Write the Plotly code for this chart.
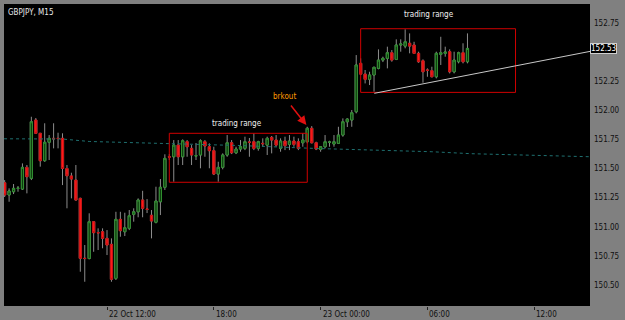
import pandas as pd
import plotly.graph_objects as go

# ---------------- data (GBPJPY, M15) ----------------
bar_times = pd.date_range("2015-10-22 06:15", periods=105, freq="15min")

opens = [151.378, 151.273, 151.301, 151.330, 151.324, 151.510, 151.416, 151.916, 151.802, 151.567,
         151.725, 151.759, 151.759, 151.759, 151.500, 151.436, 151.401, 151.244, 150.730, 150.728,
         151.044, 150.950, 150.958, 150.901, 150.850, 150.558, 151.064, 150.958, 150.987, 151.107,
         151.129, 151.230, 151.153, 151.099, 151.039, 151.215, 151.339, 151.601, 151.601, 151.701,
         151.601, 151.730, 151.673, 151.607, 151.616, 151.730, 151.687, 151.653, 151.453, 151.510,
         151.616, 151.721, 151.635, 151.667, 151.673, 151.727, 151.730, 151.673, 151.716, 151.701,
         151.767, 151.744, 151.673, 151.736, 151.707, 151.736, 151.730, 151.721, 151.730, 151.845,
         151.721, 151.664, 151.687, 151.725, 151.710, 151.716, 151.787, 151.901, 151.916, 151.987,
         152.402, 152.310, 152.265, 152.302, 152.359, 152.430, 152.445, 152.493, 152.436, 152.559,
         152.550, 152.574, 152.559, 152.488, 152.424, 152.345, 152.339, 152.287, 152.479, 152.488,
         152.502, 152.330, 152.416, 152.493, 152.416]
highs = [151.401, 151.330, 151.367, 151.350, 151.544, 151.530, 151.944, 151.933, 151.805, 151.888,
         151.787, 151.888, 151.807, 151.802, 151.530, 151.464, 151.530, 151.250, 150.844, 151.116,
         151.050, 150.987, 150.987, 150.972, 150.901, 151.129, 151.129, 151.121, 151.144, 151.159,
         151.244, 151.309, 151.238, 151.144, 151.344, 151.410, 151.622, 151.624, 151.744, 151.744,
         151.750, 151.744, 151.701, 151.719, 151.750, 151.744, 151.716, 151.687, 151.558, 151.630,
         151.787, 151.744, 151.687, 151.744, 151.773, 151.762, 151.802, 151.738, 151.759, 151.773,
         151.779, 151.787, 151.759, 151.773, 151.787, 151.773, 151.759, 151.802, 151.858, 151.864,
         151.730, 151.693, 151.787, 151.738, 151.787, 151.858, 151.930, 151.930, 152.002, 152.473,
         152.445, 152.345, 152.330, 152.373, 152.522, 152.459, 152.545, 152.516, 152.608, 152.608,
         152.694, 152.659, 152.587, 152.502, 152.436, 152.359, 152.373, 152.502, 152.630, 152.545,
         152.522, 152.502, 152.502, 152.574, 152.659]
lows = [151.256, 151.215, 151.281, 151.301, 151.316, 151.287, 151.401, 151.796, 151.516, 151.558,
        151.573, 151.673, 151.673, 151.358, 151.159, 151.244, 151.225, 150.615, 150.529, 150.721,
        150.786, 150.801, 150.816, 150.758, 150.529, 150.544, 150.915, 150.921, 150.972, 151.044,
        151.082, 151.082, 151.118, 150.901, 151.030, 151.101, 151.316, 151.573, 151.387, 151.530,
        151.530, 151.601, 151.530, 151.573, 151.502, 151.601, 151.502, 151.444, 151.387, 151.493,
        151.601, 151.624, 151.624, 151.644, 151.658, 151.601, 151.658, 151.653, 151.687, 151.616,
        151.630, 151.687, 151.644, 151.658, 151.658, 151.687, 151.658, 151.687, 151.716, 151.716,
        151.658, 151.644, 151.673, 151.687, 151.687, 151.710, 151.773, 151.856, 151.858, 151.973,
        152.302, 152.230, 152.216, 152.159, 152.351, 152.413, 152.359, 152.416, 152.430, 152.502,
        152.531, 152.488, 152.482, 152.407, 152.236, 152.287, 152.282, 152.273, 152.388, 152.459,
        152.316, 152.316, 152.402, 152.402, 152.402]
closes = [151.273, 151.307, 151.330, 151.332, 151.510, 151.430, 151.901, 151.802, 151.567, 151.725,
          151.759, 151.755, 151.757, 151.500, 151.438, 151.410, 151.230, 150.730, 150.728, 151.044,
          150.950, 150.948, 150.901, 150.844, 150.550, 151.064, 150.967, 150.992, 151.095, 151.129,
          151.230, 151.159, 151.150, 151.050, 151.221, 151.339, 151.587, 151.598, 151.701, 151.601,
          151.738, 151.687, 151.616, 151.610, 151.738, 151.693, 151.653, 151.453, 151.510, 151.616,
          151.721, 151.635, 151.667, 151.687, 151.730, 151.725, 151.673, 151.730, 151.713, 151.759,
          151.744, 151.701, 151.736, 151.696, 151.736, 151.707, 151.673, 151.744, 151.845, 151.721,
          151.667, 151.687, 151.730, 151.727, 151.730, 151.787, 151.901, 151.924, 151.978, 152.388,
          152.310, 152.265, 152.302, 152.368, 152.430, 152.445, 152.493, 152.430, 152.559, 152.568,
          152.587, 152.550, 152.488, 152.416, 152.330, 152.342, 152.287, 152.488, 152.493, 152.499,
          152.330, 152.430, 152.493, 152.416, 152.530]

# slow moving average (dotted teal line), read at a few points
ma_times = ["2015-10-22 06:13", "2015-10-22 09:30", "2015-10-22 11:00", "2015-10-22 15:30",
            "2015-10-22 19:30", "2015-10-22 23:45", "2015-10-23 02:45", "2015-10-23 06:15",
            "2015-10-23 08:30", "2015-10-23 11:45", "2015-10-23 15:08"]
ma_values = [151.755, 151.753, 151.732, 151.716, 151.697, 151.672, 151.658, 151.644,
             151.627, 151.616, 151.601]

# annotations / objects
range_boxes = [  # (t0, t1, low, high)
    ("2015-10-22 15:30", "2015-10-22 23:15", 151.382, 151.802),
    ("2015-10-23 02:15", "2015-10-23 10:57", 152.153, 152.699),
]
range_labels = [("2015-10-22 19:18", 151.882), ("2015-10-23 06:04", 152.822)]
trend_times = ["2015-10-23 03:01", "2015-10-23 15:09"]
trend_values = [152.145, 152.505]
brk_label = ("2015-10-22 21:58", 152.116)
brk_arrow_tail = ("2015-10-22 22:16", 152.053)
brk_arrow_head = ("2015-10-22 23:12", 151.873)
last_price = 152.53

x_tick_times = ["2015-10-22 12:00", "2015-10-22 18:00", "2015-10-23 00:00",
                "2015-10-23 06:00", "2015-10-23 12:00"]
x_tick_labels = ["22 Oct 12:00", "18:00", "23 Oct 00:00", "06:00", "12:00"]
y_tick_values = [150.50, 150.75, 151.00, 151.25, 151.50, 151.75, 152.00, 152.25, 152.50, 152.75]
y_tick_labels = ["150.50", "150.75", "151.00", "151.25", "151.50", "151.75",
                 "152.00", "152.25", "", "152.75"]

x_range = ["2015-10-22 06:12:48", "2015-10-23 15:08"]
y_range = [150.321, 152.911]

# ---------------- figure ----------------
FONT = "Liberation Sans Narrow, DejaVu Sans Condensed, Arial, sans-serif"
WICK = "#8c8c8c"
fig = go.Figure()

# dotted moving average
fig.add_trace(go.Scatter(x=ma_times, y=ma_values, mode="lines",
                         line=dict(color="#1f7070", width=1, dash="dot"), hoverinfo="skip"))

# wicks
fig.add_trace(go.Candlestick(
    x=bar_times, open=opens, high=highs, low=lows, close=closes,
    increasing=dict(line=dict(color=WICK, width=1), fillcolor=WICK),
    decreasing=dict(line=dict(color=WICK, width=1), fillcolor=WICK),
    whiskerwidth=0, hoverinfo="skip"))

# bodies
body_hi = [max(o, c) for o, c in zip(opens, closes)]
body_lo = [min(o, c) for o, c in zip(opens, closes)]
fig.add_trace(go.Candlestick(
    x=bar_times, open=opens, high=body_hi, low=body_lo, close=closes,
    increasing=dict(line=dict(color="#2f8f2f", width=1), fillcolor="#0d3a0d"),
    decreasing=dict(line=dict(color="#c81010", width=1), fillcolor="#ff1a1a"),
    whiskerwidth=0))

# trading range boxes
for t0, t1, lo, hi in range_boxes:
    fig.add_shape(type="rect", xref="x", yref="y", x0=t0, x1=t1, y0=lo, y1=hi,
                  line=dict(color="#d00000", width=1), fillcolor="rgba(0,0,0,0)")

# trendline
fig.add_shape(type="line", xref="x", yref="y", x0=trend_times[0], x1=trend_times[1],
              y0=trend_values[0], y1=trend_values[1], line=dict(color="#c8c8c8", width=1))

for t, v in range_labels:
    fig.add_annotation(x=t, y=v, xref="x", yref="y", text="trading range", showarrow=False,
                       font=dict(family=FONT, size=8, color="#f0f0f0"))

fig.add_annotation(x=brk_label[0], y=brk_label[1], xref="x", yref="y", text="brkout",
                   showarrow=False, font=dict(family=FONT, size=8, color="#ff9a00"))
fig.add_annotation(x=brk_arrow_head[0], y=brk_arrow_head[1], xref="x", yref="y",
                   ax=brk_arrow_tail[0], ay=brk_arrow_tail[1], axref="x", ayref="y",
                   text="", showarrow=True, arrowhead=2, arrowsize=1.2, arrowwidth=1.5,
                   arrowcolor="#e01010")

# title
fig.add_annotation(x=0, y=1, xref="paper", yref="paper", xanchor="left", yanchor="top",
                   xshift=2, yshift=-2, text="GBPJPY, M15", showarrow=False,
                   font=dict(family=FONT, size=8, color="#e8e8e8"))

# x tick labels (left-aligned at tick)
for t, lab in zip(x_tick_times, x_tick_labels):
    fig.add_annotation(x=t, y=0, xref="x", yref="paper", xanchor="left", yanchor="top",
                       yshift=-2, text=lab, showarrow=False,
                       font=dict(family=FONT, size=8, color="#101010"))

# current price label
fig.add_annotation(x=1, y=last_price, xref="paper", yref="y", xanchor="left", yanchor="middle",
                   text=f"{last_price:.2f}", showarrow=False, bgcolor="#000000",
                   bordercolor="#d0d0d0", borderwidth=1, borderpad=0,
                   font=dict(family=FONT, size=8, color="#ffffff"))

fig.update_layout(
    width=625, height=320,
    margin=dict(l=4, r=35, t=4, b=14),
    paper_bgcolor="#808080", plot_bgcolor="#000000",
    showlegend=False,
    xaxis=dict(type="date", range=x_range, rangeslider=dict(visible=False),
               showgrid=False, zeroline=False, showline=False,
               tickvals=x_tick_times, showticklabels=False,
               ticks="outside", ticklen=3, tickwidth=1, tickcolor="#202020"),
    yaxis=dict(side="right", range=y_range, showgrid=False, zeroline=False, showline=False,
               tickvals=y_tick_values, ticktext=y_tick_labels, ticks="",
               tickfont=dict(family=FONT, size=8, color="#101010"), ticklabelstandoff=3),
)

fig.write_html("out.html")
